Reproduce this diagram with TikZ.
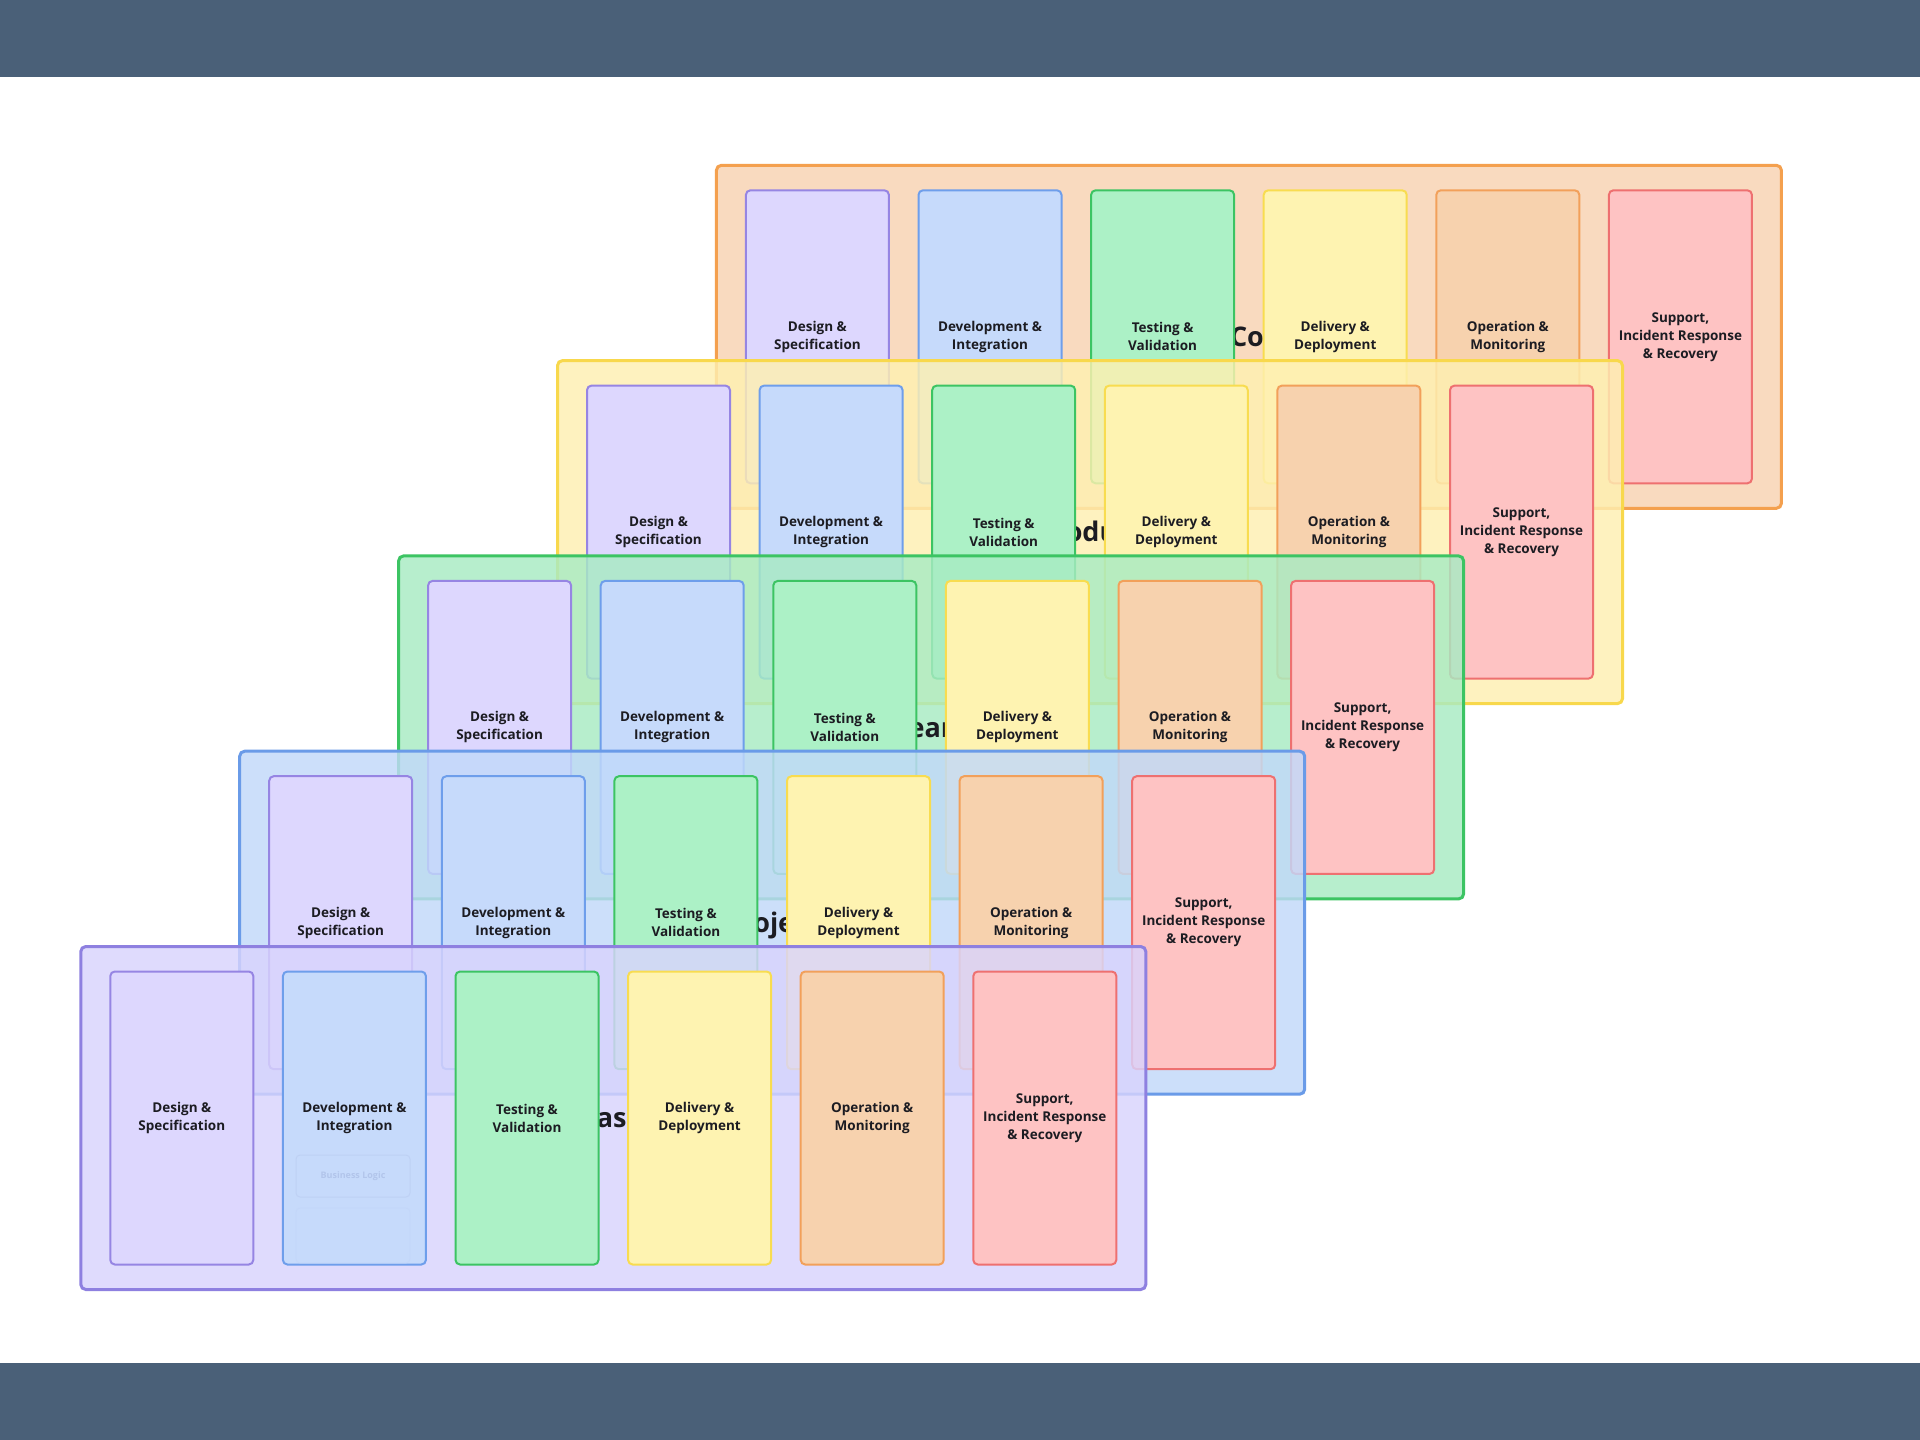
\documentclass[tikz,border=0pt]{standalone}
\usepackage{fontspec}
\setmainfont{Open Sans}

% bars
\definecolor{barcol}{RGB}{74,96,120}
\definecolor{labeltext}{RGB}{28,28,34}
% panel colours (fill used with opacity)
\definecolor{pPur}{RGB}{217,212,253}\definecolor{pPurD}{RGB}{142,128,224}
\definecolor{pBlu}{RGB}{193,217,250}\definecolor{pBluD}{RGB}{106,155,232}
\definecolor{pGrn}{RGB}{168,235,195}\definecolor{pGrnD}{RGB}{60,196,99}
\definecolor{pYel}{RGB}{254,240,177}\definecolor{pYelD}{RGB}{248,216,76}
\definecolor{pOra}{RGB}{248,211,177}\definecolor{pOraD}{RGB}{244,160,78}
% column colours (opaque)
\definecolor{cPur}{RGB}{221,215,254}\definecolor{cPurD}{RGB}{150,133,227}
\definecolor{cBlu}{RGB}{198,218,251}\definecolor{cBluD}{RGB}{110,158,235}
\definecolor{cGrn}{RGB}{172,241,198}\definecolor{cGrnD}{RGB}{60,196,99}
\definecolor{cYel}{RGB}{254,243,177}\definecolor{cYelD}{RGB}{248,220,80}
\definecolor{cOra}{RGB}{247,210,174}\definecolor{cOraD}{RGB}{242,160,90}
\definecolor{cRed}{RGB}{254,195,195}\definecolor{cRedD}{RGB}{238,112,112}
\definecolor{blBorder}{RGB}{190,209,244}
\definecolor{blBorderB}{RGB}{195,214,249}
\definecolor{blText}{RGB}{178,197,235}

\tikzset{
  every node/.style={inner sep=0pt, outer sep=0pt},
  panelbox/.style={draw, rounded corners=5pt, line width=3pt, fill opacity=0.82,
    minimum width=1065pt, minimum height=343pt, anchor=north west},
  colbox/.style={draw, rounded corners=4.5pt, line width=2pt,
    minimum width=143pt, minimum height=293pt, anchor=north west,
    align=center, text=labeltext, font=\bfseries\fontsize{13.5}{18}\selectfont},
  panellabel/.style={text=labeltext, font=\bfseries\fontsize{27}{32}\selectfont},
  bar/.style={fill=barcol},
}

\newcommand{\panelcols}[3]{%
  \node[colbox, draw=cPurD, fill=cPur] (#1a) at (#2+29.5,#3+25) {Design \&\\Specification};
  \node[colbox, draw=cBluD, fill=cBlu] (#1b) at (#2+202.1,#3+25) {Development \&\\Integration};
  \node[colbox, draw=cGrnD, fill=cGrn] (#1c) at (#2+374.7,#3+25) {Testing \&\\Validation};
  \node[colbox, draw=cYelD, fill=cYel] (#1d) at (#2+547.3,#3+25) {Delivery \&\\Deployment};
  \node[colbox, draw=cOraD, fill=cOra] (#1e) at (#2+719.9,#3+25) {Operation \&\\Monitoring};
  \node[colbox, draw=cRedD, fill=cRed] (#1f) at (#2+892.5,#3+25) {Support,\\Incident Response\\\& Recovery};
}

\begin{document}
\begin{tikzpicture}[x=1pt, y=-1pt]
\useasboundingbox (0,0) rectangle (1920,1440);
\fill[white] (0,0) rectangle (1920,1440);
\fill[bar] (0,0) rectangle (1920,77);
\fill[bar] (0,1363) rectangle (1920,1440);

% back panel
\node[panelbox, draw=pOraD, fill=pOra] (p1) at (716.4,165.3) {};
\node[panellabel, anchor=base west] (p1l) at (1230,346.4) {Company};
\panelcols{p1}{716.4}{165.3}

\node[panelbox, draw=pYelD, fill=pYel] (p2) at (557.5,360.6) {};
\node[panellabel, anchor=base] (p2l) at (1090,541.7) {Product};
\panelcols{p2}{557.5}{360.6}

\node[panelbox, draw=pGrnD, fill=pGrn] (p3) at (398.6,555.9) {};
\node[panellabel, anchor=base] (p3l) at (931.1,737) {Team};
\panelcols{p3}{398.6}{555.9}

\node[panelbox, draw=pBluD, fill=pBlu] (p4) at (239.7,751.2) {};
\node[panellabel, anchor=base] (p4l) at (772.2,932.3) {Project};
\panelcols{p4}{239.7}{751.2}

% front panel
\node[panelbox, draw=pPurD, fill=pPur] (p5) at (80.8,946.5) {};
\node[panellabel, anchor=base] (p5l) at (613.3,1127.6) {Task};
\panelcols{p5}{80.8}{946.5}
\node[draw=blBorder, rounded corners=4pt, line width=1pt, minimum width=114pt,
      minimum height=42pt, anchor=north west, text=blText,
      font=\bfseries\fontsize{9}{11}\selectfont] (p5bl) at (296,1155) {Business Logic};
\node[draw=blBorderB, rounded corners=4pt, line width=0.8pt, minimum width=114pt,
      minimum height=55pt, anchor=north west] (p5bl2) at (296,1208) {};
\end{tikzpicture}
\end{document}
